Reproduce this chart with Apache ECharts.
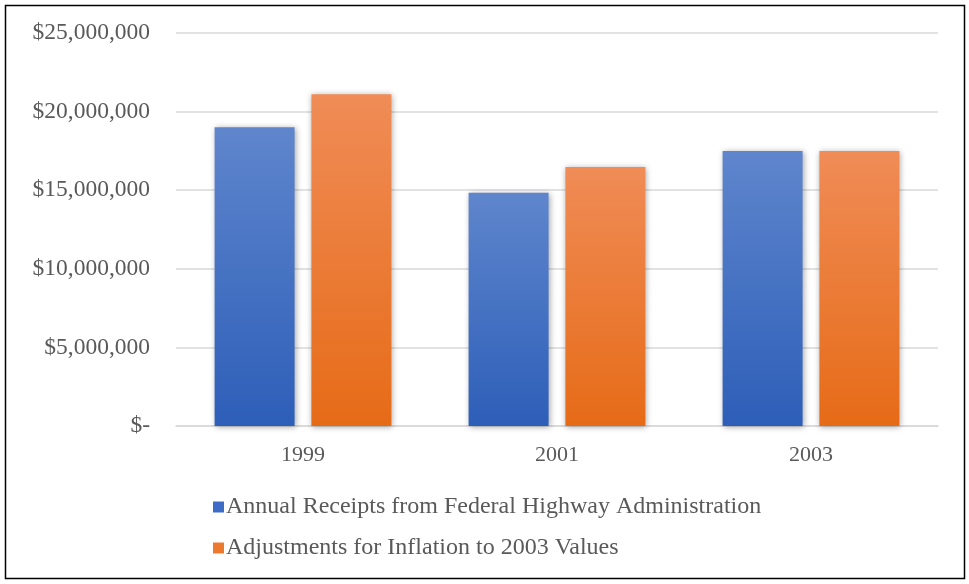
<!DOCTYPE html>
<html><head><meta charset="utf-8">
<script src="https://cdn.jsdelivr.net/npm/echarts@6/dist/echarts.min.js"></script>
<style>html,body{margin:0;padding:0;background:#fff}#c{width:969px;height:584px}</style>
</head><body><div id="c"></div>
<script>
const categories = ['1999', '2001', '2003'];
const seriesNames = ['Annual Receipts from Federal Highway Administration', 'Adjustments for Inflation to 2003 Values'];
const receipts = [19000000, 14830000, 17500000];
const inflationAdjusted = [21100000, 16480000, 17500000];

const chart = echarts.init(document.getElementById('c'));
const font = '"Liberation Serif", "Times New Roman", serif';
function fmt(v) {
  if (v === 0) return '$-';
  return '$' + v.toString().replace(/\B(?=(\d{3})+(?!\d))/g, ',');
}
function grad(top, bottom) {
  return new echarts.graphic.LinearGradient(0, 0, 0, 1, [{offset: 0, color: top}, {offset: 1, color: bottom}]);
}
chart.setOption({
  animation: false,
  backgroundColor: '#fff',
  graphic: [{type: 'rect', shape: {x: 5.5, y: 5.5, width: 959, height: 573}, style: {fill: 'none', stroke: '#000', lineWidth: 1.5}, z: 100}],
  grid: {left: 176, right: 31, top: 33, bottom: 158},
  legend: {
    orient: 'vertical', left: 208, top: 490, itemGap: 17, itemWidth: 11, itemHeight: 11,
    textStyle: {fontFamily: font, fontSize: 24, color: '#595959', padding: [0, 0, 0, -3]},
    data: [
      {name: seriesNames[0], icon: 'rect', itemStyle: {color: '#3E6BC5'}},
      {name: seriesNames[1], icon: 'rect', itemStyle: {color: '#EC7A2E'}}
    ]
  },
  xAxis: {
    type: 'category', data: categories,
    axisLine: {lineStyle: {color: '#d9d9d9', width: 1.5}},
    axisTick: {show: false},
    axisLabel: {fontFamily: font, fontSize: 22, color: '#595959', margin: 18}
  },
  yAxis: {
    type: 'value', min: 0, max: 25000000, interval: 5000000,
    axisLine: {show: false}, axisTick: {show: false},
    splitLine: {lineStyle: {color: '#d9d9d9', width: 1.5}},
    axisLabel: {fontFamily: font, fontSize: 23.5, color: '#595959', margin: 26, formatter: fmt}
  },
  series: [
    {name: seriesNames[0], type: 'bar', data: receipts, barWidth: 80, barGap: '21%',
     itemStyle: {color: grad('#5F86CD', '#2D5EB8'), shadowColor: 'rgba(0,0,0,0.35)', shadowBlur: 6, shadowOffsetX: 1, shadowOffsetY: 1}},
    {name: seriesNames[1], type: 'bar', data: inflationAdjusted, barWidth: 80,
     itemStyle: {color: grad('#F08C57', '#E66B17'), shadowColor: 'rgba(0,0,0,0.35)', shadowBlur: 6, shadowOffsetX: 1, shadowOffsetY: 1}}
  ]
});
</script></body></html>
